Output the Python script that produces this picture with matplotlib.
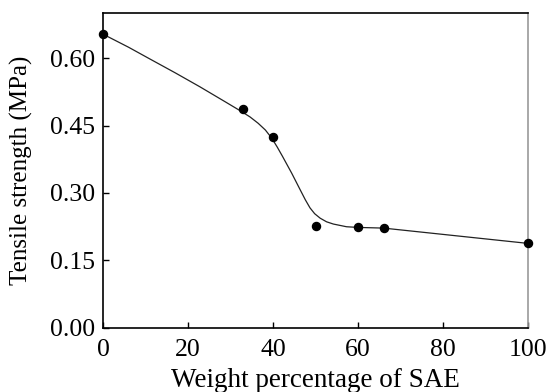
import matplotlib
matplotlib.use("Agg")
from matplotlib import pyplot as plt

# measured points
sae_pct = [0, 33, 40, 50, 60, 66, 100]
tensile = [0.653, 0.486, 0.424, 0.226, 0.224, 0.222, 0.188]

# fitted curve
curve_x = [0, 6, 11, 17, 22.8, 28.7, 32.6, 34.6, 36.5, 38.2, 39.7, 41, 42.2,
           44.4, 46.4, 47.6, 48.7, 49.8, 51.1, 52.6, 54.2, 57.3, 60, 66, 80, 100]
curve_y = [0.653, 0.624, 0.598, 0.567, 0.536, 0.503, 0.481, 0.469, 0.455, 0.440,
           0.422, 0.402, 0.382, 0.344, 0.307, 0.285, 0.267, 0.254, 0.244, 0.236,
           0.231, 0.225, 0.2235, 0.222, 0.208, 0.188]

x_ticks = [0, 20, 40, 60, 80, 100]
y_ticks = [0.00, 0.15, 0.30, 0.45, 0.60]

plt.rcParams['font.family'] = ['Liberation Serif', 'DejaVu Serif']

fig = plt.figure(figsize=(5.5, 3.92), dpi=100)
ax = fig.add_axes([0.1873, 0.1633, 0.7727, 0.8035])

ax.plot(curve_x, curve_y, color='#222222', linewidth=0.9, zorder=2)
ax.plot(sae_pct, tensile, 'o', color='black', markersize=5.8, zorder=3, clip_on=False)

ax.set_xlim(0, 100)
ax.set_ylim(0, 0.70)
ax.set_xticks(x_ticks)
ax.set_yticks(y_ticks)
ax.set_yticklabels([f'{v:.2f}' for v in y_ticks])
ax.tick_params(direction='in', length=4.5, width=1, labelsize=18.5,
               top=False, right=False)
ax.tick_params(axis='x', pad=8)
ax.tick_params(axis='y', pad=6)

ax.set_xlabel('Weight percentage of SAE', fontsize=19.5, labelpad=5)
ax.set_ylabel('Tensile strength (MPa)', fontsize=18, labelpad=12)

for side in ['left', 'bottom', 'top']:
    ax.spines[side].set_linewidth(1.2)
    ax.spines[side].set_color('black')
ax.spines['right'].set_color('#999999')
ax.spines['right'].set_linewidth(1.2)

fig.savefig('out.png', dpi=100)
